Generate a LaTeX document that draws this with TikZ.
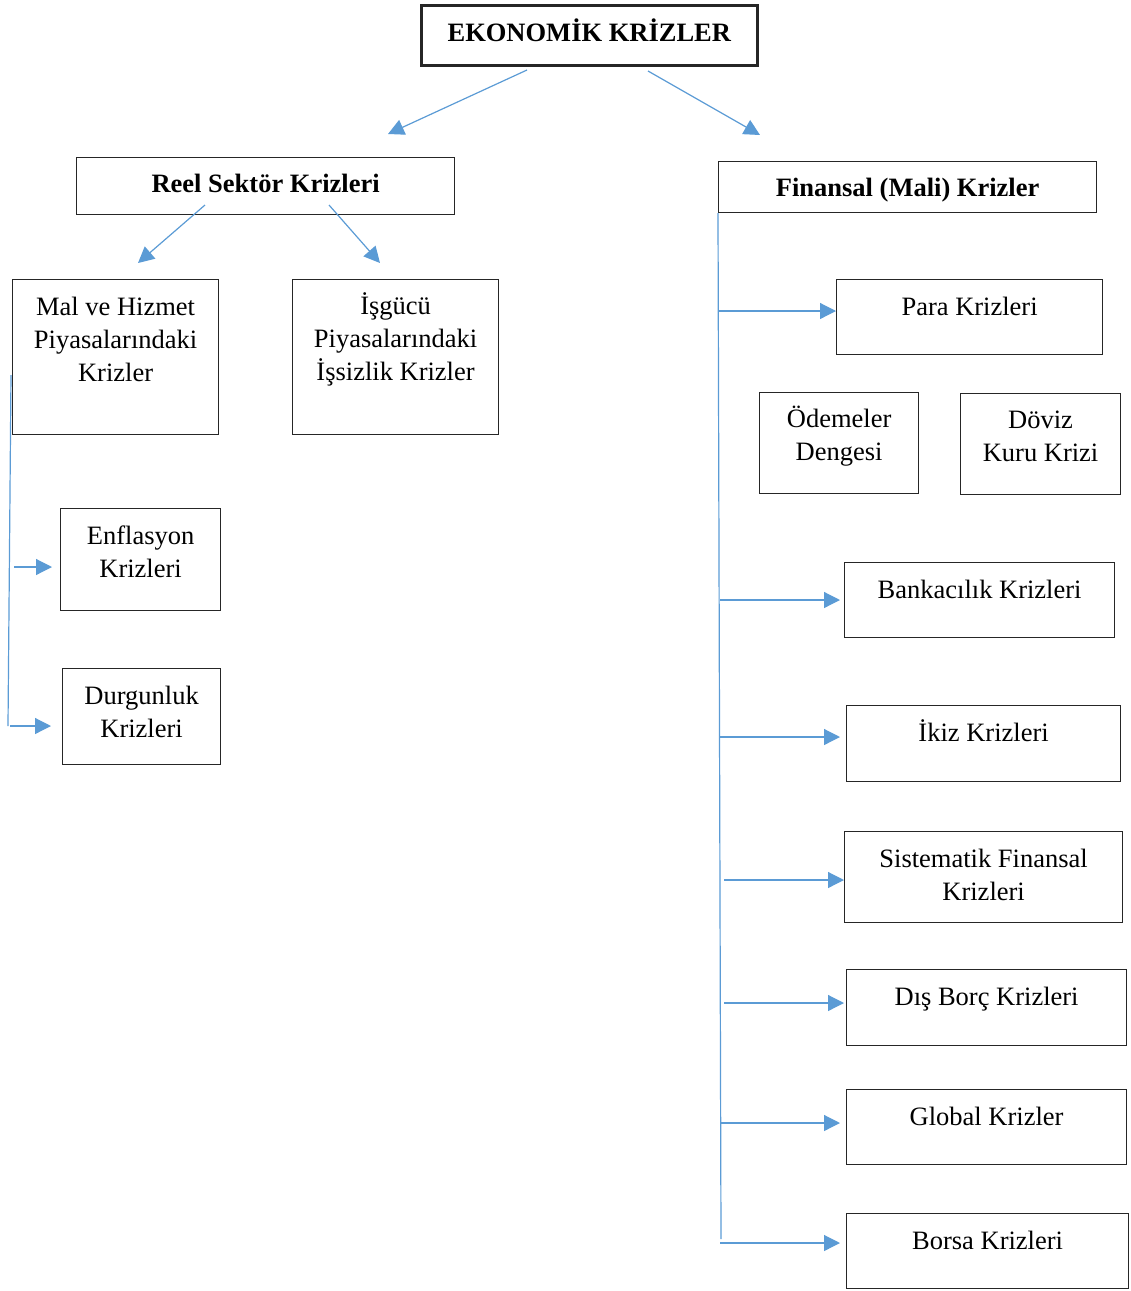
\documentclass[tikz,border=0pt]{standalone}
\usepackage{fontspec}
\setmainfont{Liberation Serif}
\usepackage{tikz}
\usetikzlibrary{arrows.meta, positioning}
\definecolor{okmavi}{HTML}{5B9BD5}

\begin{document}
\begin{tikzpicture}[
    x=1pt, y=-1pt,
    kutu/.style={draw=black!85, rectangle, line width=1.2pt, inner sep=0pt, anchor=north west},
    baslik/.style={kutu, font=\fontsize{26.5}{33}\selectfont\bfseries},
    yazi/.style={anchor=north, align=center, inner sep=0pt, yshift=-14pt,
        font=\fontsize{26.5}{33}\selectfont, execute at begin node=\vphantom{İ}},
    ok/.style={-{Triangle[length=16pt,width=16pt]}, okmavi, line width=1.2pt},
    hat/.style={okmavi, line width=1.2pt}
]
\useasboundingbox (0,0) rectangle (1131,1291);

% ust kutular
\node[baslik, line width=2.6pt, minimum width=336pt, minimum height=60pt, text depth=11pt] (ekonomik) at (420,4) {EKONOMİK KRİZLER};
\node[baslik, minimum width=378pt, minimum height=57pt, text depth=6pt] (reel) at (76,157) {Reel Sektör Krizleri};
\node[baslik, minimum width=378pt, minimum height=51pt, text height=25pt] (finans) at (718,161) {Finansal (Mali) Krizler};

% reel sektor
\node[kutu, minimum width=206pt, minimum height=155pt] (mal) at (12,279) {};
\node[yazi, yshift=-4pt] (malT) at (mal.north) {Mal ve Hizmet\\Piyasalarındaki\\Krizler};
\node[kutu, minimum width=206pt, minimum height=155pt] (isgucu) at (292,279) {};
\node[yazi, yshift=1pt] (isgucuT) at (isgucu.north) {İşgücü\\Piyasalarındaki\\İşsizlik Krizler};
\node[kutu, minimum width=160pt, minimum height=102pt] (enflasyon) at (60,508) {};
\node[yazi, yshift=-4pt] (enflasyonT) at (enflasyon.north) {Enflasyon\\Krizleri};
\node[kutu, minimum width=158pt, minimum height=96pt] (durgunluk) at (62,668) {};
\node[yazi, yshift=-4pt] (durgunlukT) at (durgunluk.north) {Durgunluk\\Krizleri};

% finansal
\node[kutu, minimum width=266pt, minimum height=75pt] (para) at (836,279) {};
\node[yazi] (paraT) at (para.north) {Para Krizleri};
\node[kutu, minimum width=159pt, minimum height=101pt] (odemeler) at (759,392) {};
\node[yazi] (odemelerT) at (odemeler.north) {Ödemeler\\Dengesi};
\node[kutu, minimum width=160pt, minimum height=101pt] (doviz) at (960,393) {};
\node[yazi, yshift=-4pt] (dovizT) at (doviz.north) {Döviz\\Kuru Krizi};
\node[kutu, minimum width=270pt, minimum height=75pt] (banka) at (844,562) {};
\node[yazi] (bankaT) at (banka.north) {Bankacılık Krizleri};
\node[kutu, minimum width=274pt, minimum height=76pt] (ikiz) at (846,705) {};
\node[yazi] (ikizT) at (ikiz.north) {İkiz Krizleri};
\node[kutu, minimum width=278pt, minimum height=91pt] (sistematik) at (844,831) {};
\node[yazi, yshift=-4pt] (sistematikT) at (sistematik.north) {Sistematik Finansal\\Krizleri};
\node[kutu, minimum width=280pt, minimum height=76pt] (disborc) at (846,969) {};
\node[yazi] (disborcT) at (disborc.north) {Dış Borç Krizleri};
\node[kutu, minimum width=280pt, minimum height=75pt] (global) at (846,1089) {};
\node[yazi] (globalT) at (global.north) {Global Krizler};
\node[kutu, minimum width=282pt, minimum height=75pt] (borsa) at (846,1213) {};
\node[yazi] (borsaT) at (borsa.north) {Borsa Krizleri};

% ok uclari
\coordinate (e1) at (527,70);  \coordinate (e2) at (388,134);
\coordinate (e3) at (648,71);  \coordinate (e4) at (760,135);
\coordinate (r1) at (205,205); \coordinate (r2) at (138,263);
\coordinate (r3) at (329,205); \coordinate (r4) at (380,263);
\draw[ok] (e1) -- (e2);
\draw[ok] (e3) -- (e4);
\draw[ok] (r1) -- (r2);
\draw[ok] (r3) -- (r4);

% sol hat
\coordinate (solUst) at (11,375);
\coordinate (solAlt) at (8,726);
\draw[hat] (solUst) -- (solAlt);
\coordinate (s1) at (14,567);
\coordinate (s2) at (10,726);
\draw[ok, shorten >=8pt] (s1) -- (s1 -| enflasyon.west);
\draw[ok, shorten >=11pt] (s2) -- (s2 -| durgunluk.west);

% sag hat
\coordinate (sagAlt) at (721,1239);
\draw[hat] (finans.south west) -- (sagAlt);
\coordinate (f1) at (718,311);
\coordinate (f2) at (720,600);
\coordinate (f3) at (720,737);
\coordinate (f4) at (724,880);
\coordinate (f5) at (724,1003);
\coordinate (f6) at (720,1123);
\coordinate (f7) at (720,1243);
\draw[ok] (f1) -- (f1 -| para.west);
\draw[ok, shorten >=4pt] (f2) -- (f2 -| banka.west);
\draw[ok, shorten >=6pt] (f3) -- (f3 -| ikiz.west);
\draw[ok] (f4) -- (f4 -| sistematik.west);
\draw[ok, shorten >=2pt] (f5) -- (f5 -| disborc.west);
\draw[ok, shorten >=6pt] (f6) -- (f6 -| global.west);
\draw[ok, shorten >=6pt] (f7) -- (f7 -| borsa.west);
\end{tikzpicture}
\end{document}
